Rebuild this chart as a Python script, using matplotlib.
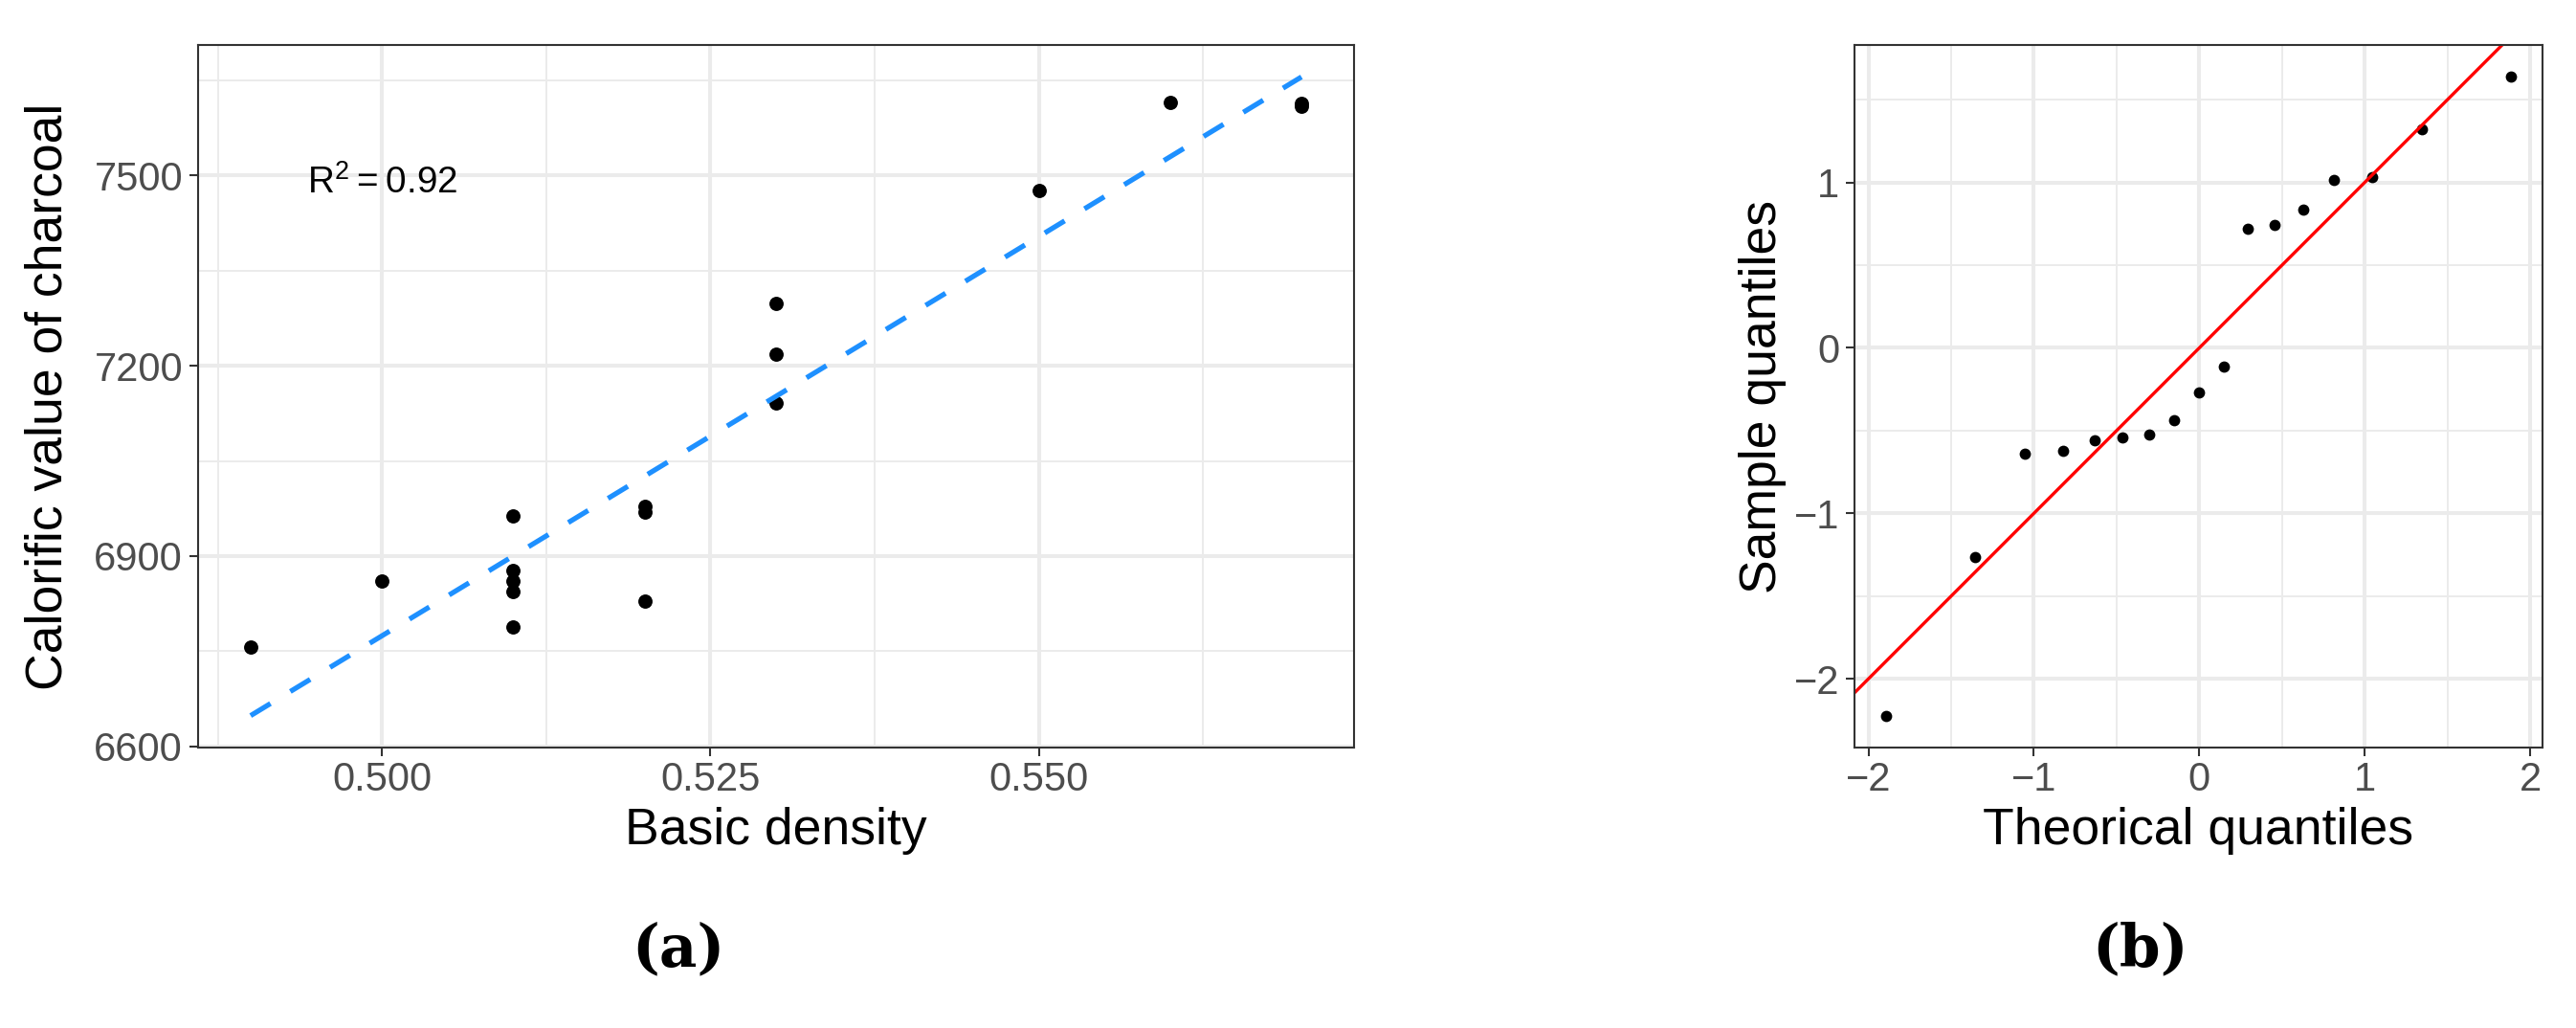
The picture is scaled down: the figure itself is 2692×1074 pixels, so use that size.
import matplotlib.pyplot as plt
import numpy as np
from matplotlib.ticker import MultipleLocator, FormatStrFormatter

plt.rcParams['font.family'] = ['Liberation Sans', 'DejaVu Sans']
plt.rcParams['mathtext.fontset'] = 'custom'
plt.rcParams['mathtext.rm'] = 'Liberation Sans'

# panel (a): basic density vs calorific value of charcoal
density = [0.49, 0.50, 0.51, 0.51, 0.51, 0.51, 0.51, 0.52, 0.52, 0.52,
           0.53, 0.53, 0.53, 0.55, 0.56, 0.57, 0.57]
calorific = [6756, 6861, 6963, 6878, 6861, 6844, 6788, 6979, 6969, 6829,
             7298, 7218, 7142, 7476, 7616, 7614, 7610]
r2_text = r'$\mathregular{R^2 = 0.92}$'

# panel (b): normal Q-Q plot of residuals
theo_q = [-1.895, -1.354, -1.052, -0.823, -0.633, -0.462, -0.302, -0.154, 0.0,
          0.148, 0.295, 0.456, 0.626, 0.816, 1.046, 1.348, 1.885]
sample_q = [-2.222, -1.266, -0.640, -0.623, -0.557, -0.543, -0.525, -0.436, -0.270,
            -0.112, 0.721, 0.744, 0.833, 1.016, 1.034, 1.321, 1.637]

W, H = 2692, 1074
fig = plt.figure(figsize=(W / 100, H / 100), dpi=100)


def px(x0, y0, x1, y1):
    # pixel box (top-left origin) -> figure fraction rect
    return [x0 / W, 1 - y1 / H, (x1 - x0) / W, (y1 - y0) / H]


def style(ax):
    ax.set_axisbelow(True)
    ax.grid(which='major', color='#EBEBEB', lw=2.9)
    ax.grid(which='minor', color='#EBEBEB', lw=1.4)
    for s in ax.spines.values():
        s.set_color('#333333')
        s.set_linewidth(1.5)
    ax.tick_params(which='major', length=6.5, width=1.5, color='#333333',
                   labelcolor='#4D4D4D', labelsize=30)
    ax.tick_params(which='minor', length=0)
    ax.tick_params(axis='x', pad=3.6)
    ax.tick_params(axis='y', pad=5)


ax1 = fig.add_axes(px(207, 47, 1415, 781))
ax1.scatter(density, calorific, s=115, color='black', linewidths=0)
coef = np.polyfit(density, calorific, 1)
xs = np.array([min(density), max(density)])
ax1.plot(xs, np.polyval(coef, xs), color='#1E90FF', lw=3.8,
         linestyle=(0, (4.6, 4.6)), dash_capstyle='butt')
ax1.text(0.5, 7488, r2_text, ha='center', va='center', fontsize=27.8)
ax1.xaxis.set_major_locator(MultipleLocator(0.025))
ax1.xaxis.set_minor_locator(MultipleLocator(0.0125))
ax1.xaxis.set_major_formatter(FormatStrFormatter('%.3f'))
ax1.yaxis.set_major_locator(MultipleLocator(300))
ax1.yaxis.set_minor_locator(MultipleLocator(150))
style(ax1)

ax2 = fig.add_axes(px(1938, 47, 2657, 781))
ax2.scatter(theo_q, sample_q, s=72, color='black', linewidths=0)
ax2.axline((0, 0), slope=1, color='red', lw=2.4)
ax2.xaxis.set_major_locator(MultipleLocator(1))
ax2.xaxis.set_minor_locator(MultipleLocator(0.5))
ax2.yaxis.set_major_locator(MultipleLocator(1))
ax2.yaxis.set_minor_locator(MultipleLocator(0.5))
style(ax2)

fig.text(65 / W, 1 - 414 / H, 'Calorific value of charcoal', rotation=90,
         rotation_mode='anchor', ha='center', va='baseline', fontsize=38.5)
fig.text(811 / W, 1 - 882 / H, 'Basic density', ha='center', va='baseline', fontsize=38.5)
fig.text(1856 / W, 1 - 414 / H, 'Sample quantiles', rotation=90,
         rotation_mode='anchor', ha='center', va='baseline', fontsize=38.5)
fig.text(2297 / W, 1 - 882 / H, 'Theorical quantiles', ha='center', va='baseline', fontsize=38.5)

fig.text(709 / W, 1 - 992 / H, '(a)', ha='center', va='center', fontsize=44,
         fontweight='bold', family='DejaVu Serif')
fig.text(2237 / W, 1 - 992 / H, '(b)', ha='center', va='center', fontsize=44,
         fontweight='bold', family='DejaVu Serif')

fig.savefig('out.png', dpi=100)
